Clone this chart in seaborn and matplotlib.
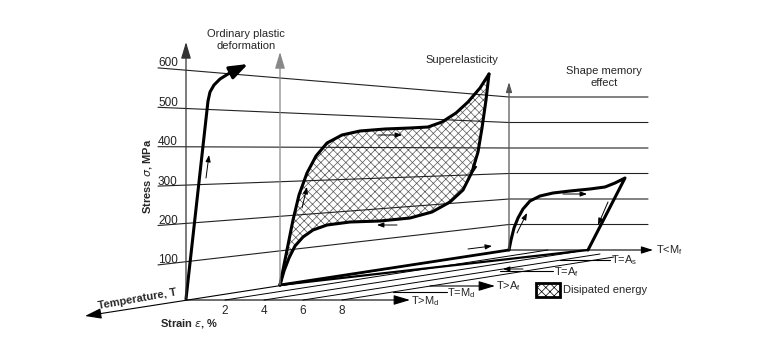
import numpy as np
import pandas as pd
import matplotlib
matplotlib.use("Agg")
import matplotlib.pyplot as plt
from matplotlib.patches import Rectangle
import seaborn as sns

# ---------------- data (schematic, canvas units) ----------------
stress_levels = [100, 200, 300, 400, 500, 600]
strain_ticks = [2, 4, 6, 8]
temp_labels = ["T>M$_{\\mathregular{d}}$", "T=M$_{\\mathregular{d}}$", "T>A$_{\\mathregular{f}}$",
               "T=A$_{\\mathregular{f}}$", "T=A$_{\\mathregular{s}}$", "T<M$_{\\mathregular{f}}$"]

# ordinary plastic deformation curve
opd_x = [186, 208, 210, 214, 220, 228, 236]
opd_y = [299, 101, 92, 85, 79, 74, 70]
# superelastic loop: loading (upper) and unloading (lower)
se_up_x = [280, 286, 293, 299, 307, 316, 327, 342, 360, 385, 410, 428, 442, 456, 468, 480, 489]
se_up_y = [285, 255, 220, 195, 173, 156, 143, 135, 131, 129, 128, 127, 122, 113, 102, 88, 74]
se_lo_x = [280, 284, 289, 295, 303, 313, 327, 350, 380, 410, 432, 450, 463, 472, 478, 482, 486, 489]
se_lo_y = [285, 271, 258, 246, 237, 230, 225, 222, 221, 218, 212, 202, 190, 172, 152, 128, 100, 74]
# shape memory effect loop
sme_x = [509, 511, 514, 518, 523, 530, 540, 553, 570, 590, 605, 615, 625, 588]
sme_y = [250, 240, 228, 218, 209, 201, 196, 193, 191, 189, 187, 183, 178, 250]

# ---------------- layout ----------------
W, H = 764, 349
sns.set_theme(style="white")
plt.rcParams["font.family"] = ["Liberation Sans", "DejaVu Sans"]
plt.rcParams["hatch.linewidth"] = 0.5

fig = plt.figure(figsize=(W / 100, H / 100), dpi=100)
ax = fig.add_axes([0, 0, 1, 1])

FS = 8
K = "black"
HATCH = "xxxx"

def arrow(p0, p1, lw=0.7, hl=4, hw=1.5, color=K):
    ax.annotate("", xy=p1, xytext=p0,
                arrowprops=dict(arrowstyle=f"-|>,head_length={hl},head_width={hw}",
                                lw=lw, color=color, shrinkA=0, shrinkB=0,
                                mutation_scale=1))

# loops (seaborn line drawing)
curves = pd.DataFrame({
    "x": opd_x + se_up_x + se_lo_x + sme_x,
    "y": opd_y + se_up_y + se_lo_y + sme_y,
    "curve": ["opd"] * len(opd_x) + ["se_up"] * len(se_up_x) + ["se_lo"] * len(se_lo_x) + ["sme"] * len(sme_x),
})
sns.lineplot(data=curves, x="x", y="y", units="curve", estimator=None, sort=False,
             color=K, lw=2.2, ax=ax, zorder=3, legend=False)
ax.set_xlim(0, W)
ax.set_ylim(H, 0)
ax.axis("off")

ax.fill(se_up_x + se_lo_x[::-1], se_up_y + se_lo_y[::-1], facecolor="white",
        edgecolor="#555555", linewidth=0, hatch=HATCH, zorder=2)

# projection of the stress planes
ax1_x, ax1_base, ax1_scale = 186, 300, 0.383
ax3_x, ax3_base, ax3_scale = 509, 250, 0.255
left_x, right_x = 158, 648

for s in stress_levels:
    yl = ax1_base - ax1_scale * s
    yr = ax3_base - ax3_scale * s
    slope = (yr - yl) / (ax3_x - ax1_x)
    y0 = yl - slope * (ax1_x - left_x)
    ax.plot([left_x, ax3_x, right_x], [y0, yr, yr], color="#222222", lw=0.8, zorder=2.5)
    ax.text(left_x, y0 - 1.5, str(s), fontsize=8.5, ha="left", va="baseline", color="#222222")

# vertical stress axes
arrow((186, 300), (186, 42), lw=0.9, hl=10, hw=3, color="#333333")
arrow((280, 285), (280, 52), lw=0.9, hl=10, hw=3, color="#888888")
arrow((509, 250), (509, 82), lw=0.9, hl=6, hw=1.8, color="#555555")

# temperature axis and oblique strain lines
arrow((509, 250), (85, 316), lw=0.8, hl=10, hw=3.2)
oblique_ends = [(548, 250), (575, 252), (600, 254), (614, 257)]
for t, (ex, ey) in zip(strain_ticks, oblique_ends):
    x0 = ax1_x + 19.5 * t
    ax.plot([x0, ex], [300, ey], color=K, lw=0.7)
    ax.text(x0, 311, str(t), fontsize=8.5, ha="center", va="center")

# thick base lines of the loops
ax.plot([280, 509], [285, 250], color=K, lw=2.0)
ax.plot([280, 588], [285, 250], color=K, lw=1.6)

# temperature level lines
arrow((186, 300), (410, 300), lw=0.8, hl=10, hw=3)
ax.plot([393, 447], [292, 292], color=K, lw=0.8)
arrow((430, 286), (495, 286), lw=0.8, hl=10, hw=3)
ax.plot([500, 553], [271, 271], color=K, lw=0.8)
ax.plot([560, 610], [260, 260], color=K, lw=0.8)
arrow((509, 250), (653, 250), lw=0.8, hl=7, hw=2.2)
tpos = [(411, 301), (447, 293), (496, 286), (554, 272), (611, 260), (656, 250)]
for lab, (tx, ty) in zip(temp_labels, tpos):
    ax.text(tx, ty, lab, fontsize=FS, ha="left", va="center")

arrow((236, 70), (248, 64), lw=2.2, hl=11, hw=4)

# small direction arrows
arrow((206, 178), (209, 155))
arrow((302, 208), (307, 187))
arrow((378, 135), (402, 135))
arrow((478, 152), (473, 173))
arrow((397, 225), (377, 225))
arrow((517, 233), (527, 213))
arrow((563, 194), (587, 194))
arrow((608, 202), (598, 225))
arrow((468, 249), (492, 246))
arrow((523, 269), (503, 269))

# texts
ax.text(246, 40, "Ordinary plastic\ndeformation", fontsize=FS, ha="center", va="center",
        linespacing=1.35)
ax.text(462, 60, "Superelasticity", fontsize=FS, ha="center", va="center")
ax.text(604, 77, "Shape memory\neffect", fontsize=FS, ha="center", va="center", linespacing=1.35)
ax.text(148, 176, "Stress $\\sigma$, MPa", fontsize=FS, fontweight="bold", rotation=90,
        ha="center", va="center")
ax.text(137, 299, "Temperature, T", fontsize=FS, fontweight="bold", rotation=10,
        ha="center", va="center", rotation_mode="anchor")
ax.text(189, 323, "Strain $\\varepsilon$, %", fontsize=FS, fontweight="bold",
        ha="center", va="center")

# legend
ax.add_patch(Rectangle((536, 283), 24, 14, facecolor="white", edgecolor=K, lw=2,
                       hatch=HATCH))
ax.text(563, 290, "Disipated energy", fontsize=FS, ha="left", va="center")

fig.savefig("out.png", dpi=100)
